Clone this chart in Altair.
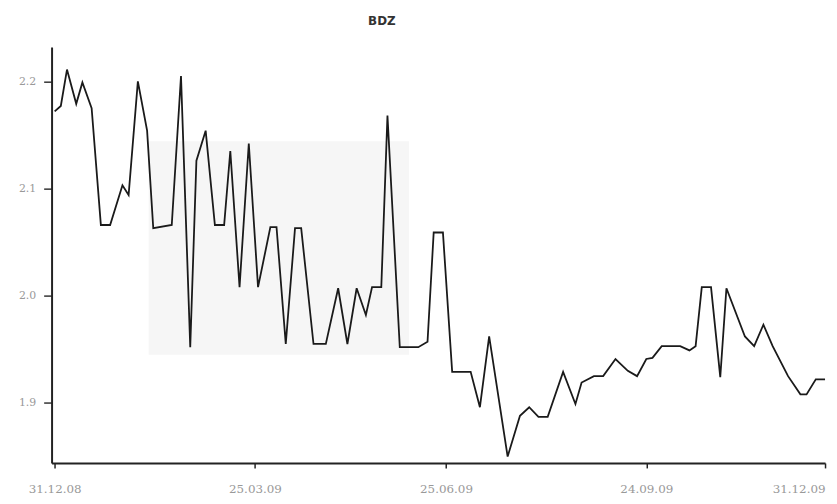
import altair as alt
import pandas as pd

# trading-session index and closing value
session = [0, 2, 4, 7, 9, 12, 15, 18, 22, 24, 27, 30, 32, 38, 41, 44, 46, 49, 52, 55,
           57, 60, 63, 66, 70, 72, 75, 78, 80, 84, 88, 92, 95, 98, 101, 103, 106, 108,
           112, 118, 121, 123, 126, 129, 135, 138, 141, 147, 151, 154, 157, 160, 165,
           169, 171, 175, 178, 182, 186, 189, 192, 194, 197, 203, 206, 208, 210, 213,
           216, 218, 224, 227, 230, 233, 238, 242, 244, 247, 250]
price = [2.172, 2.177, 2.211, 2.179, 2.199, 2.175, 2.066, 2.066, 2.103, 2.094, 2.200,
         2.154, 2.063, 2.066, 2.205, 1.952, 2.126, 2.154, 2.066, 2.066, 2.135, 2.008,
         2.142, 2.008, 2.064, 2.064, 1.955, 2.063, 2.063, 1.955, 1.955, 2.007, 1.955,
         2.007, 1.982, 2.008, 2.008, 2.168, 1.952, 1.952, 1.957, 2.059, 2.059, 1.929,
         1.929, 1.896, 1.962, 1.850, 1.888, 1.896, 1.887, 1.887, 1.929, 1.899, 1.919,
         1.925, 1.925, 1.941, 1.930, 1.925, 1.941, 1.942, 1.953, 1.953, 1.949, 1.953,
         2.008, 2.008, 1.924, 2.007, 1.962, 1.953, 1.973, 1.953, 1.925, 1.908, 1.908,
         1.922, 1.922]

tick_pos = [0, 65, 127, 192, 250]
tick_labels = ["31.12.08", "25.03.09", "25.06.09", "24.09.09", "31.12.09"]
y_ticks = [2.2, 2.1, 2.0, 1.9]

# faint scan shading behind the middle of the series
shade_x = [30.5]
shade_x2 = [115]
shade_y = [2.144]
shade_y2 = [1.945]

df = pd.DataFrame({"session": session, "price": price})
shade = pd.DataFrame({"x": shade_x, "x2": shade_x2, "y": shade_y, "y2": shade_y2})

label_expr = " : ".join(
    f"datum.value == {p} ? '{l}'" for p, l in zip(tick_pos, tick_labels)
) + " : ''"

xscale = alt.Scale(domain=[-1, 250], nice=False, zero=False)
yscale = alt.Scale(domain=[1.844, 2.232], nice=False, zero=False)

xaxis = alt.Axis(values=tick_pos, labelExpr=label_expr, grid=False,
                 domainColor="#222", domainWidth=2, tickColor="#222",
                 tickSize=5, tickWidth=1.5, labelColor="#999999",
                 labelFont="DejaVu Serif", labelFontSize=12,
                 labelAlign={"expr": f"datum.value == {tick_pos[-1]} ? 'right' : 'center'"},
                 labelPadding=16, labelFlush=False)
yaxis = alt.Axis(values=y_ticks, format=".1f", grid=False,
                 domainColor="#222", domainWidth=2, tickColor="#333",
                 tickSize=8, tickWidth=1.5, labelColor="#999999",
                 labelFont="DejaVu Serif", labelFontSize=11,
                 labelPadding=8)

band = alt.Chart(shade).mark_rect(color="#f6f6f6").encode(
    x=alt.X("x:Q", scale=xscale, title=None, axis=xaxis),
    x2="x2",
    y=alt.Y("y:Q", scale=yscale, title=None, axis=yaxis),
    y2="y2",
)

line = alt.Chart(df).mark_line(color="#1a1a1a", strokeWidth=1.8).encode(
    x=alt.X("session:Q", scale=xscale, title=None, axis=xaxis),
    y=alt.Y("price:Q", scale=yscale, title=None, axis=yaxis),
)

chart = alt.layer(band, line).properties(
    width=781,
    height=420,
    padding={"left": 44, "top": 37, "right": 4, "bottom": 38},
    autosize=alt.AutoSizeParams(type="none"),
    title=alt.TitleParams("BDZ", anchor="middle", dx=-57, offset=19,
                          font="DejaVu Sans", fontSize=12, fontWeight="bold",
                          color="#333"),
).configure(background="white").configure_view(stroke=None)

chart.save("out.html", embed_options={"renderer": "svg", "actions": False})
